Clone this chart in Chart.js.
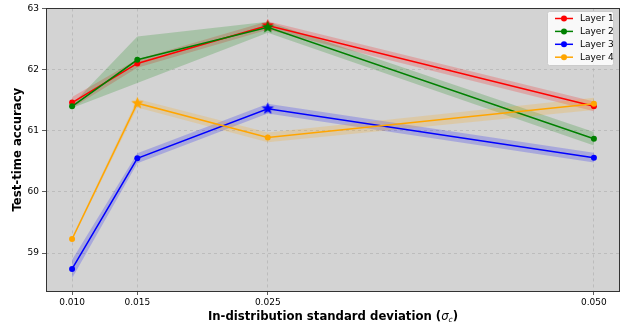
<!DOCTYPE html>
<html>
<head>
<meta charset="utf-8">
<script src="https://cdn.jsdelivr.net/npm/chart.js@4.4.1/dist/chart.umd.min.js"></script>
<style>
html,body{margin:0;padding:0;background:#fff;}
#wrap{width:628px;height:329px;}
</style>
</head>
<body>
<div id="wrap"><canvas id="c" width="628" height="329"></canvas></div>
<script>
const sigmas = [0.010, 0.015, 0.025, 0.050];
const xTicks = [0.010, 0.015, 0.025, 0.050];
const yTicks = [59, 60, 61, 62, 63];
const layerNames = ["Layer 1", "Layer 2", "Layer 3", "Layer 4"];
const layer1 = [61.46, 62.10, 62.72, 61.40];
const layer1Std = [0.09, 0.07, 0.07, 0.08];
const layer2 = [61.40, 62.16, 62.69, 60.87];
const layer2Std = [0.03, 0.38, 0.09, 0.11];
const layer3 = [58.74, 60.55, 61.36, 60.56];
const layer3Std = [0.15, 0.08, 0.08, 0.08];
const layer4 = [59.23, 61.45, 60.89, 61.44];
const layer4Std = [0.03, 0.07, 0.08, 0.10];
const colors = ["#ff0000", "#008000", "#0000ff", "#ffa500"];
const bandColors = ["rgba(255,0,0,0.2)", "rgba(0,128,0,0.2)", "rgba(0,0,255,0.2)", "rgba(255,165,0,0.2)"];

const means = [layer1, layer2, layer3, layer4];
const stds = [layer1Std, layer2Std, layer3Std, layer4Std];

function starCanvas(color, r) {
  const c = document.createElement('canvas');
  const s = Math.ceil(r * 2 + 2);
  c.width = s; c.height = s;
  const g = c.getContext('2d');
  g.beginPath();
  for (let i = 0; i < 10; i++) {
    const rad = i % 2 === 0 ? r : r * 0.42;
    const a = -Math.PI / 2 + i * Math.PI / 5;
    const x = s / 2 + rad * Math.cos(a), y = s / 2 + rad * Math.sin(a);
    if (i === 0) g.moveTo(x, y); else g.lineTo(x, y);
  }
  g.closePath();
  g.fillStyle = color;
  g.fill();
  return c;
}

const datasets = [];
const lineOrder = [4, 3, 2, 1];
for (let k = 0; k < 4; k++) {
  const m = means[k], sd = stds[k];
  const upper = sigmas.map((x, i) => ({x, y: m[i] + sd[i]}));
  const lower = sigmas.map((x, i) => ({x, y: m[i] - sd[i]}));
  const upIdx = datasets.length;
  datasets.push({label: '_u' + k, data: upper, borderWidth: 0, pointRadius: 0, fill: false, order: 20 + lineOrder[k], borderColor: 'rgba(0,0,0,0)'});
  datasets.push({label: '_l' + k, data: lower, borderWidth: 0, pointRadius: 0, fill: upIdx, backgroundColor: bandColors[k], order: 20 + lineOrder[k], borderColor: 'rgba(0,0,0,0)'});
  const maxIdx = m.indexOf(Math.max(...m));
  const star = starCanvas(colors[k], 6.5);
  datasets.push({
    label: layerNames[k],
    data: sigmas.map((x, i) => ({x, y: m[i]})),
    borderColor: colors[k],
    backgroundColor: colors[k],
    borderWidth: 1.5,
    pointStyle: ctx => ctx.dataIndex === maxIdx ? star : 'circle',
    pointRadius: ctx => ctx.dataIndex === maxIdx ? 6.5 : 3,
    pointBorderWidth: 0,
    fill: false,
    order: lineOrder[k]
  });
}

const bgPlugin = {
  id: 'bg',
  beforeDraw(chart) {
    const {ctx, chartArea: a} = chart;
    ctx.save();
    ctx.fillStyle = '#fff';
    ctx.fillRect(0, 0, chart.width, chart.height);
    ctx.fillStyle = '#d3d3d3';
    ctx.fillRect(a.left, a.top, a.right - a.left, a.bottom - a.top);
    ctx.restore();
  },
  afterDraw(chart) {
    const {ctx, chartArea: a} = chart;
    ctx.save();
    ctx.strokeStyle = '#333';
    ctx.lineWidth = 1;
    ctx.strokeRect(Math.round(a.left) + 0.5, Math.round(a.top) + 0.5, Math.round(a.right - a.left) - 1, Math.round(a.bottom - a.top));
    // legend
    const lx = 547, ly = 11, lw = 66, lh = 54;
    ctx.fillStyle = 'rgba(255,255,255,0.85)';
    ctx.strokeStyle = '#cccccc';
    ctx.beginPath();
    ctx.roundRect(lx + 0.5, ly + 0.5, lw, lh, 2);
    ctx.fill();
    ctx.stroke();
    ctx.font = '9px "DejaVu Sans"';
    ctx.textBaseline = 'middle';
    ctx.textAlign = 'left';
    for (let k = 0; k < 4; k++) {
      const y = ly + 7.5 + k * 12.9;
      ctx.strokeStyle = colors[k];
      ctx.lineWidth = 1.5;
      ctx.beginPath(); ctx.moveTo(lx + 8, y); ctx.lineTo(lx + 26, y); ctx.stroke();
      ctx.fillStyle = colors[k];
      ctx.beginPath(); ctx.arc(lx + 17, y, 3, 0, Math.PI * 2); ctx.fill();
      ctx.fillStyle = '#000';
      ctx.fillText(layerNames[k], lx + 33, y + 0.5);
    }
    // axis titles
    ctx.fillStyle = '#000';
    ctx.save();
    ctx.translate(18, (a.top + a.bottom) / 2);
    ctx.rotate(-Math.PI / 2);
    ctx.textAlign = 'center';
    ctx.font = 'bold 11.7px "DejaVu Sans"';
    ctx.fillText('Test-time accuracy', 0, 0);
    ctx.restore();
    const p1 = 'In-distribution standard deviation (';
    const p2 = 'σ', p3 = 'c', p4 = ')';
    const fB = 'bold 11.7px "DejaVu Sans"', fI = 'italic 11.7px "DejaVu Sans"', fS = 'italic 7.5px "DejaVu Sans"';
    ctx.font = fB; const w1 = ctx.measureText(p1).width, w4 = ctx.measureText(p4).width;
    ctx.font = fI; const w2 = ctx.measureText(p2).width;
    ctx.font = fS; const w3 = ctx.measureText(p3).width;
    let x = (a.left + a.right) / 2 - (w1 + w2 + w3 + w4) / 2;
    const ty = 316;
    ctx.textAlign = 'left';
    ctx.textBaseline = 'alphabetic';
    ctx.font = fB; ctx.fillText(p1, x, ty + 4); x += w1;
    ctx.font = fI; ctx.fillText(p2, x, ty + 4); x += w2;
    ctx.font = fS; ctx.fillText(p3, x, ty + 6); x += w3;
    ctx.font = fB; ctx.fillText(p4, x, ty + 4);
    ctx.restore();
  }
};

new Chart(document.getElementById('c'), {
  type: 'line',
  data: {datasets},
  options: {
    responsive: false,
    animation: false,
    devicePixelRatio: 1,
    layout: {padding: {top: 7, right: 8, left: 0, bottom: 0}},
    plugins: {legend: {display: false}, tooltip: {enabled: false}},
    scales: {
      x: {
        type: 'linear', min: 0.008, max: 0.052,
        afterBuildTicks: s => { s.ticks = xTicks.map(v => ({value: v})); },
        afterFit: s => { s.height = 38; },
        ticks: {callback: v => v.toFixed(3), color: '#000', font: {family: 'DejaVu Sans', size: 9}, padding: 2, maxRotation: 0, autoSkip: false},
        grid: {color: 'rgba(175,175,175,0.8)', tickBorderDash: [], tickColor: '#333', tickLength: 4, lineWidth: 0.8},
        border: {display: false, dash: [3, 3]}
      },
      y: {
        type: 'linear', min: 58.38, max: 63,
        afterBuildTicks: s => { s.ticks = yTicks.map(v => ({value: v})); },
        afterFit: s => { s.width = 46; },
        ticks: {callback: v => String(v), color: '#000', font: {family: 'DejaVu Sans', size: 9}, padding: 3},
        grid: {color: 'rgba(175,175,175,0.8)', tickBorderDash: [], tickColor: '#333', tickLength: 4, lineWidth: 0.8},
        border: {display: false, dash: [3, 3]}
      }
    }
  },
  plugins: [bgPlugin]
});
</script>
</body>
</html>
